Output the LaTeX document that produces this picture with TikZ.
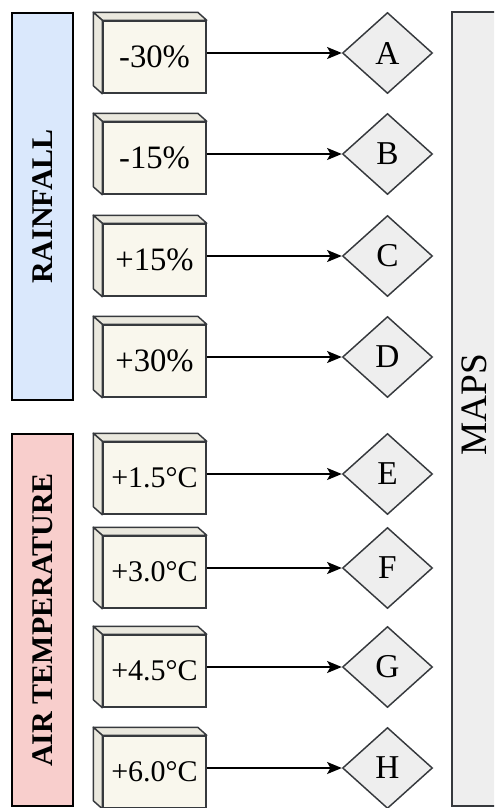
\documentclass[tikz,border=0pt]{standalone}
\usepackage{fontspec}
\setmainfont{Liberation Serif}
\usetikzlibrary{arrows.meta,shapes.geometric,positioning}
\definecolor{boxfill}{HTML}{F9F7ED}
\definecolor{sidefill}{HTML}{EAE8DE}
\definecolor{boxline}{HTML}{36393D}
\definecolor{outfill}{HTML}{EEEEEE}
\definecolor{rainfill}{HTML}{DAE8FC}
\definecolor{airfill}{HTML}{F8CECC}

\begin{document}
\begin{tikzpicture}[
x=0.75pt, y=-0.75pt,
valbox/.style={draw=boxline, fill=boxfill, line width=1.1pt, minimum width=77.25pt, minimum height=54pt, inner sep=0pt},
sideface/.style={draw=boxline, fill=sidefill, line width=1.1pt, line join=round},
outcome/.style={diamond, draw=boxline, fill=outfill, line width=1.1pt, minimum width=67.5pt, minimum height=60.75pt, inner sep=0pt, font=\fontsize{25}{28}\selectfont},
grouplabel/.style={draw=black, line width=1.1pt, rotate=90, minimum height=45.75pt, inner sep=0pt, font=\bfseries\fontsize{22.5}{26}\selectfont},
mapbox/.style={draw=boxline, fill=outfill, line width=1.1pt},
maptext/.style={rotate=90, inner sep=0pt, font=\fontsize{28}{32}\selectfont},
link/.style={line width=1.1pt, -{Stealth[length=11pt,width=9pt,inset=2.5pt]}}
]
    % Picture frame
    \path[use as bounding box, clip] (0,0) rectangle (494,808);

    % Groups and target
    \node[grouplabel, fill=rainfill, minimum width=290.25pt] (rain) at (42.5,206.5) {RAINFALL};
    \node[grouplabel, fill=airfill, minimum width=279pt] (air) at (42.5,620) {AIR TEMPERATURE};
    \draw[mapbox] (452,12) rectangle (504,806);
    \node[maptext] (maps) at (474.5,405) {MAPS};

    % Rainfall scenarios
    \foreach \nm/\row/\val in {A/53/-30\%, B/154/-15\%, C/256/+15\%, D/357/+30\%}{
        \node[valbox, font=\fontsize{24.5}{28}\selectfont] (v\nm) at (154.5,\row+4) {\val};
        \draw[sideface] (v\nm.north west) -- ++(-9,-8) -- ([shift={(-9,-8)}]v\nm.north east) -- (v\nm.north east) -- cycle;
        \draw[sideface] (v\nm.north west) -- ++(-9,-8) -- ([shift={(-9,-8)}]v\nm.south west) -- (v\nm.south west) -- cycle;
        \node[outcome] (d\nm) at (387.5,\row) {\nm};
        \draw[link] (v\nm.east |- d\nm) -- (d\nm);
    }

    % Temperature scenarios
    \foreach \nm/\row/\val in {E/474/+1.5°C, F/568/+3.0°C, G/667/+4.5°C, H/768/+6.0°C}{
        \node[valbox, font=\fontsize{22.5}{26}\selectfont] (v\nm) at (154.5,\row+4) {\val};
        \draw[sideface] (v\nm.north west) -- ++(-9,-8) -- ([shift={(-9,-8)}]v\nm.north east) -- (v\nm.north east) -- cycle;
        \draw[sideface] (v\nm.north west) -- ++(-9,-8) -- ([shift={(-9,-8)}]v\nm.south west) -- (v\nm.south west) -- cycle;
        \node[outcome] (d\nm) at (387.5,\row) {\nm};
        \draw[link] (v\nm.east |- d\nm) -- (d\nm);
    }
\end{tikzpicture}
\end{document}
